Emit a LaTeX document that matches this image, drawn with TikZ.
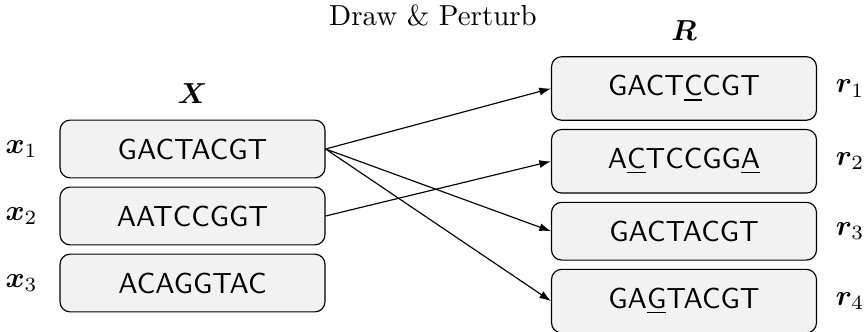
\documentclass[tikz,border=0pt]{standalone}
\usepackage{amsmath,amssymb}
\usepackage{bm}
\usepackage{tikz}
\usetikzlibrary{arrows.meta,positioning}

\begin{document}
\begin{tikzpicture}[x=0.3457pt, y=0.3457pt,
    seq/.style={rectangle, draw=black, fill=gray!10, rounded corners=3.5pt,
                minimum width=91.6pt, inner ysep=6.4pt, font=\sffamily},
    arr/.style={-{Latex[length=4pt, width=2.8pt]}, black},
    tag/.style={font=\normalsize}
]
\useasboundingbox (0,0) rectangle (864,-332);

% input sequences
\node[seq]                    (x1) at (192.5,-149) {GACTACGT};
\node[seq, below=2.8pt of x1] (x2) {AATCCGGT};
\node[seq, below=2.8pt of x2] (x3) {ACAGGTAC};

% perturbed sequences
\node[seq]                    (r1) at (684,-88.5) {GACT\underline{C}CGT};
\node[seq, below=2.8pt of r1] (r2) {A\underline{C}TCCGG\underline{A}};
\node[seq, below=2.8pt of r2] (r3) {GACTACGT};
\node[seq, below=2.8pt of r3] (r4) {GA\underline{G}TACGT};

% labels
\node[tag, above=2pt of x1] (X) {$\bm{X}$};
\node[tag, above=2pt of r1] (R) {$\bm{R}$};
\node[tag, left=4pt of x1]  (lx1) {$\bm{x}_1$};
\node[tag, left=4pt of x2]  (lx2) {$\bm{x}_2$};
\node[tag, left=4pt of x3]  (lx3) {$\bm{x}_3$};
\node[tag, right=3pt of r1] (lr1) {$\bm{r}_1$};
\node[tag, right=3pt of r2] (lr2) {$\bm{r}_2$};
\node[tag, right=3pt of r3] (lr3) {$\bm{r}_3$};
\node[tag, right=3pt of r4] (lr4) {$\bm{r}_4$};
\node[tag] (title) at (433,-15) {Draw \& Perturb};

\draw[arr] (x1.east) -- (r1.west);
\draw[arr] (x1.east) -- (r3.west);
\draw[arr] (x1.east) -- (r4.west);
\draw[arr] (x2.east) -- (r2.west);
\end{tikzpicture}
\end{document}
